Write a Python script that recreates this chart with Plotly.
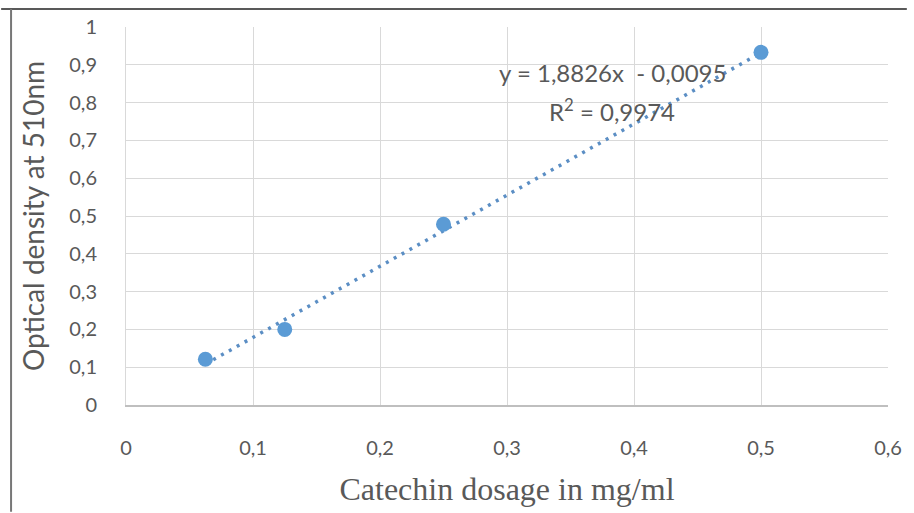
import plotly.graph_objects as go

# Data
dosage = [0.0625, 0.125, 0.25, 0.5]
density = [0.121, 0.200, 0.478, 0.933]
slope = 1.8826
intercept = -0.0095
x_ticks = [0, 0.1, 0.2, 0.3, 0.4, 0.5, 0.6]
x_tick_labels = ["0", "0,1", "0,2", "0,3", "0,4", "0,5", "0,6"]
y_ticks = [0, 0.1, 0.2, 0.3, 0.4, 0.5, 0.6, 0.7, 0.8, 0.9, 1.0]
y_tick_labels = ["0", "0,1", "0,2", "0,3", "0,4", "0,5", "0,6", "0,7", "0,8", "0,9", "1"]

trend_x = [min(dosage), max(dosage)]
trend_y = [slope * v + intercept for v in trend_x]

W, H = 914, 513
ml, mr, mt, mb = 126, 19, 27, 107
pw = W - ml - mr
ph = H - mt - mb

def px_to_paper_x(px):
    return (px - ml) / pw

def px_to_paper_y(py):
    return (H - mb - py) / ph

SANS = "Lato, sans-serif"
fig = go.Figure()
fig.add_trace(go.Scatter(
    x=trend_x, y=trend_y, mode="lines",
    line=dict(color="#5B8EC4", width=3.5, dash="3px,6px"),
    hoverinfo="skip", showlegend=False,
))
fig.add_trace(go.Scatter(
    x=dosage, y=density, mode="markers",
    marker=dict(color="#5B9BD5", size=15),
    showlegend=False,
))

grey = "#595959"
fig.update_layout(
    width=W, height=H,
    margin=dict(l=ml, r=mr, t=mt, b=mb),
    paper_bgcolor="white", plot_bgcolor="white",
    font=dict(family=SANS, color=grey, size=16),
    xaxis=dict(
        range=[0, 0.6], tickvals=x_ticks, ticktext=x_tick_labels,
        showgrid=True, gridcolor="#D9D9D9", gridwidth=1,
        showline=True, linecolor="#BFBFBF", linewidth=1.5,
        zeroline=False, ticks="", ticklabelstandoff=24,
        tickfont=dict(size=20, color=grey, family=SANS),
        title=dict(text="Catechin dosage in mg/ml", standoff=20,
                   font=dict(family="Liberation Serif, serif", size=32, color=grey)),
    ),
    yaxis=dict(
        range=[0, 1.0], tickvals=y_ticks, ticktext=y_tick_labels,
        showgrid=True, gridcolor="#D9D9D9", gridwidth=1,
        showline=True, linecolor="#D9D9D9", linewidth=1,
        zeroline=False, ticks="", ticklabelstandoff=24,
        tickfont=dict(size=20, color=grey, family=SANS),
        title=dict(text="Optical density at 510nm", standoff=16,
                   font=dict(family=SANS, size=28, color=grey)),
    ),
    shapes=[
        dict(type="line", xref="paper", yref="paper",
             x0=px_to_paper_x(0), x1=px_to_paper_x(W), y0=px_to_paper_y(9), y1=px_to_paper_y(9),
             line=dict(color="#222222", width=1.5)),
        dict(type="line", xref="paper", yref="paper",
             x0=px_to_paper_x(10), x1=px_to_paper_x(10), y0=px_to_paper_y(9), y1=px_to_paper_y(H),
             line=dict(color="#777777", width=2)),
    ],
    annotations=[
        dict(x=0.383, y=0.879, xref="x", yref="y", showarrow=False,
             text="y = 1,8826x  - 0,0095",
             font=dict(size=24, color=grey, family=SANS)),
        dict(x=0.383, y=0.781, xref="x", yref="y", showarrow=False,
             text="R<sup>2</sup> = 0,9974",
             font=dict(size=24, color=grey, family=SANS)),
    ],
)

fig.write_html("out.html")
